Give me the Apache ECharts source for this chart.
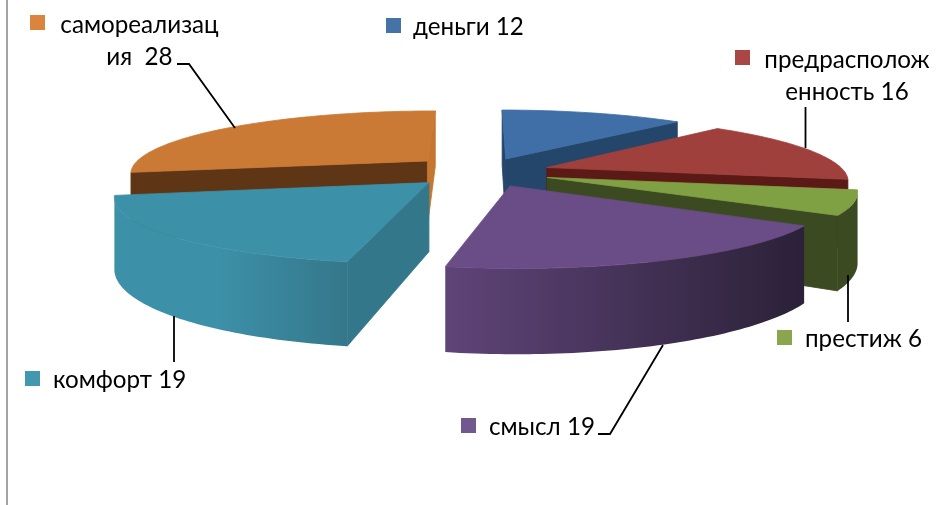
<!DOCTYPE html>
<html>
<head>
<meta charset="utf-8">
<style>
  html, body {margin: 0; padding: 0; background: #fff;}
  #chart {width: 938px; height: 505px;}
</style>
</head>
<body>
<div id="chart"></div>
<script src="https://cdn.jsdelivr.net/npm/echarts@6/dist/echarts.min.js"></script>
<script>
const categories = ['деньги', 'предрасположенность', 'престиж', 'смысл', 'комфорт', 'самореализация'];
const values = [12, 16, 6, 19, 19, 28];
// back slices first, so the front ones cover them
const drawOrder = [0, 5, 1, 2, 4, 3];

const topColors = ['#3f6fa6', '#a0403d', '#80a044', '#6a4c87', '#3c90a8', '#cb7a35'];
const keyColors = ['#4572a7', '#aa4643', '#89a54e', '#71588f', '#4198af', '#db843d'];
// left colour, right colour, and how far the left colour holds
const rimColors = [
  ['#24466b', '#24466b', 0],
  ['#5c1a17', '#5c1a17', 0],
  ['#3b4a20', '#3b4a20', 0],
  ['#5f4478', '#2b2138', 0],
  ['#3c90a8', '#35778a', 0.45],
  ['#5e3616', '#5e3616', 0]
];
const startWallColors = ['#24466b', '#5c1a17', '#3b4a20', '#3a2c50', '#33788a', '#5e3616'];
const endWallColors = ['#24466b', '#5c1a17', '#3b4a20', '#3a2c50', '#33788a', '#c5762f'];
// small px corrections per slice, the picture's slices do not sit exactly on one ring
const sliceNudge = [[1, 0], [1, 0], [1, 0], [1, 0], [0, 0], [0, -2]];

// perspective of the pie floor: world units -> px
const view = {cx: 480, cy: 172, k: 298, m: 62, p: 0.18, wall: 67, explode: 0.235};

const total = values.reduce((acc, v) => acc + v, 0);
const starts = [];
values.reduce((acc, v, i) => {
  starts[i] = acc;
  return acc + v;
}, 0);

const project = (x, y, down, nudge) => {
  const d = 1 + view.p * y;
  return [
    view.cx + view.k * x / d + nudge[0],
    view.cy - view.m * y / d + (down ? view.wall / d : 0) + nudge[1]
  ];
};

const renderSlice = (params, api) => {
  const i = api.value(1);
  const nudge = sliceNudge[i];
  const a = starts[i] / total * Math.PI * 2;
  const b = (starts[i] + values[i]) / total * Math.PI * 2;
  const mid = (a + b) / 2;
  const tx = view.explode * Math.sin(mid);
  const ty = view.explode * Math.cos(mid);
  const camY = -1 / view.p;

  const rimAt = t => [tx + Math.sin(t), ty + Math.cos(t)];
  const steps = Math.ceil((b - a) / 0.02);
  const rim = [];
  for (let s = 0; s <= steps; s++) {
    rim.push(a + (b - a) * s / steps);
  }

  const children = [];
  const face = (pts, fill, stroke) => {
    children.push({
      type: 'polygon',
      shape: {points: pts},
      style: {fill: fill, stroke: stroke, lineWidth: 0.8}
    });
  };
  const wall = (t, nx, ny, fill) => {
    // only walls turned toward the camera get drawn
    if (nx * -tx + ny * (camY - ty) <= 0) return;
    const [rx, ry] = rimAt(t);
    face([
      project(tx, ty, false, nudge), project(rx, ry, false, nudge),
      project(rx, ry, true, nudge), project(tx, ty, true, nudge)
    ], fill, fill);
  };

  wall(a, -Math.cos(a), Math.sin(a), startWallColors[i]);
  wall(b, Math.cos(b), -Math.sin(b), endWallColors[i]);

  const front = rim.filter(t => {
    const [rx, ry] = rimAt(t);
    return Math.sin(t) * -rx + Math.cos(t) * (camY - ry) > 0;
  });
  if (front.length > 1) {
    const upper = front.map(t => project(...rimAt(t), false, nudge));
    const lower = front.map(t => project(...rimAt(t), true, nudge)).reverse();
    const [left, right, hold] = rimColors[i];
    face(upper.concat(lower), new echarts.graphic.LinearGradient(0, 0, 1, 0, [
      {offset: 0, color: left},
      {offset: hold, color: left},
      {offset: 1, color: right}
    ]), null);
  }

  const top = [project(tx, ty, false, nudge)].concat(rim.map(t => project(...rimAt(t), false, nudge)));
  face(top, topColors[i], topColors[i]);
  return {type: 'group', children};
};

// label layout: key square, text anchor, where the name wraps
const labelLayout = [
  {key: [386, 18], x: 413, y: 27, align: 'left', wrap: 0},
  {key: [735, 50], x: 847, y: 76, align: 'center', wrap: 12},
  {key: [777, 330], x: 805, y: 339, align: 'left', wrap: 0},
  {key: [461, 418], x: 489, y: 427, align: 'left', wrap: 0},
  {key: [25, 371], x: 53, y: 380, align: 'left', wrap: 0},
  {key: [30, 15], x: 139.5, y: 41, align: 'center', wrap: 12}
];
const leaders = [
  [[177, 64], [189, 64], [235, 128]],
  [[805.5, 107], [805.5, 148]],
  [[848, 275], [848, 322]],
  [[598, 434], [610, 434], [663, 345]],
  [[174, 316], [174, 362]]
];

const labelFont = {fontFamily: 'Lato', fontSize: 24.2, lineHeight: 32, fill: '#000'};

const labelText = (i) => {
  const wrap = labelLayout[i].wrap;
  if (!wrap) return categories[i] + ' ' + values[i];
  const gap = i === 5 ? '  ' : ' ';
  return categories[i].slice(0, wrap) + '\n' + categories[i].slice(wrap) + gap + values[i];
};

const graphics = [{
  type: 'line',
  shape: {x1: 7, y1: 0, x2: 7, y2: 505},
  style: {stroke: '#a3a3a3', lineWidth: 2}
}];
leaders.forEach(points => {
  graphics.push({
    type: 'polyline',
    shape: {points},
    style: {stroke: '#000', lineWidth: 1.8, fill: null},
    z: 5
  });
});
labelLayout.forEach((l, i) => {
  graphics.push({
    type: 'rect',
    shape: {x: l.key[0], y: l.key[1], width: 15, height: 15},
    style: {fill: keyColors[i]}
  });
  graphics.push({
    type: 'text',
    x: l.x,
    y: l.y,
    style: Object.assign({text: labelText(i), align: l.align, verticalAlign: 'middle'}, labelFont)
  });
});

const chart = echarts.init(document.getElementById('chart'), null, {renderer: 'canvas'});
chart.setOption({
  animation: false,
  backgroundColor: '#fff',
  graphic: graphics,
  series: [{
    type: 'custom',
    coordinateSystem: 'none',
    renderItem: renderSlice,
    encode: {value: 0},
    data: drawOrder.map(i => ({name: categories[i], value: [values[i], i]}))
  }]
});
</script>
</body>
</html>
